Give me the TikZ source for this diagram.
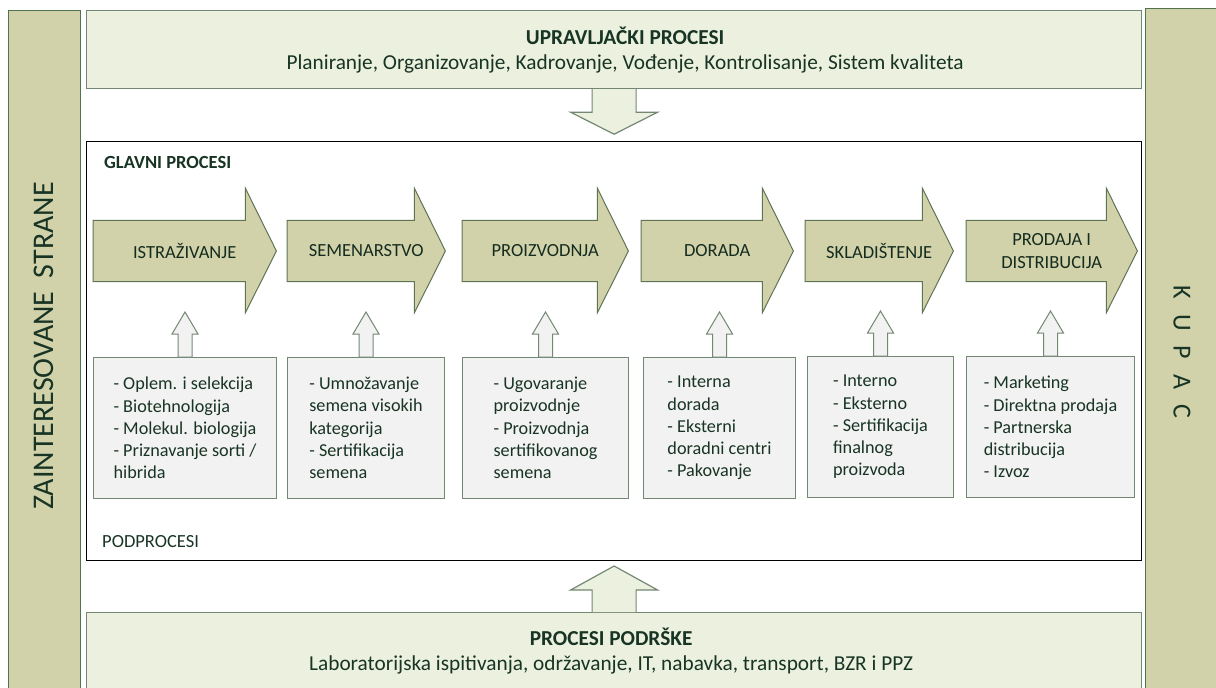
\documentclass[tikz,border=0pt]{standalone}
\usepackage{fontspec}
\setmainfont{Carlito}
\usetikzlibrary{calc, backgrounds}

\definecolor{khaki}{RGB}{210,210,170}
\definecolor{barline}{RGB}{80,115,80}
\definecolor{procline}{RGB}{95,115,85}
\definecolor{lightgreen}{RGB}{235,241,222}
\definecolor{boxline}{RGB}{115,135,115}
\definecolor{subfill}{RGB}{242,242,242}
\definecolor{textgreen}{RGB}{24,52,36}

\tikzstyle{sidebar} = [
    rectangle,
    minimum width=72pt,
    minimum height=700pt,
    line width=1.3pt,
    draw=barline,
    fill=khaki
]
\tikzstyle{bartext} = [
    font=\fontsize{30}{34}\selectfont,
    text=textgreen
]
\tikzstyle{levelbox} = [
    rectangle,
    minimum width=1055pt,
    line width=1.2pt,
    draw=boxline,
    fill=lightgreen
]
\tikzstyle{leveltext} = [
    align=center,
    text=textgreen,
    font=\fontsize{21.3}{25}\selectfont
]
\tikzstyle{mainbox} = [
    rectangle,
    minimum width=1055pt,
    minimum height=419pt,
    line width=1.2pt,
    draw=black
]
\tikzstyle{caption} = [
    anchor=west,
    inner sep=0pt,
    text=textgreen,
    font=\fontsize{18.5}{20}\selectfont
]
\tikzstyle{process} = [
    rectangle,
    minimum height=61pt,
    inner sep=0pt,
    align=center,
    text=textgreen!85!black,
    font=\fontsize{18.5}{23}\selectfont
]
\tikzstyle{procarrow} = [line width=1pt, draw=procline, fill=khaki]
\tikzstyle{subprocess} = [
    rectangle,
    minimum height=141pt,
    line width=1pt,
    draw=boxline,
    fill=subfill,
    align=left,
    text=textgreen,
    font=\fontsize{18.2}{22.2}\selectfont
]
\tikzstyle{uparrow} = [line width=1pt, draw=boxline, fill=subfill]
\tikzstyle{bigarrow} = [line width=1.2pt, draw=boxline, fill=lightgreen]

% outline of a process arrow round a node that spans body and head
\newcommand{\procshape}[1]{%
    \draw [procarrow] (#1.north west) -- ($(#1.north east)+(-31,0)$)
        -- ++(0,-32) -- (#1.east) -- ($(#1.south east)+(-31,31)$)
        -- ($(#1.south east)+(-31,0)$) -- (#1.south west) -- cycle;}

% small hollow arrow from a subprocess box up to its process
\newcommand{\subarrow}[1]{%
    \draw [uparrow] ($(#1.north)+(-7,0)$) -- ++(0,-23) -- ++(-6,0)
        -- ++(13,-22) -- ++(13,22) -- ++(-6,0) -- ++(0,23) -- cycle;}

\begin{document}
\begin{tikzpicture}[x=1pt, y=-1pt]
\clip (0,0) rectangle (1216,688);

% stakeholders and customer
\node (zainteresovane) [sidebar, anchor=north west] at (8,10) {};
\node (zaintext) [bartext, rotate=90] at (44,346)
{ZAINTERESOVANE\ \ STRANE};

\node (kupac) [sidebar, minimum width=80pt, anchor=north west] at (1145,8) {};
\node (kupactext) [bartext, rotate=-90, font=\fontsize{26}{30}\selectfont]
at (1182,352) {K\hspace{15pt}U\hspace{15pt}P\hspace{15pt}A\hspace{15pt}C};

% management and support levels
\node (upravljacki) [levelbox, minimum height=78pt, anchor=north west] at (86,10) {};
\node (upravljackitext) [leveltext] at ($(upravljacki.center)+(11,0)$)
{\textbf{UPRAVLJAČKI PROCESI}\\
Planiranje, Organizovanje, Kadrovanje, Vođenje, Kontrolisanje, Sistem kvaliteta};

\node (podrska) [levelbox, minimum height=76pt, anchor=north west] at (86,612) {};
\node (podrskatext) [leveltext] at ($(podrska.center)+(-3,0)$)
{\textbf{PROCESI PODRŠKE}\\
Laboratorijska ispitivanja, održavanje, IT, nabavka, transport, BZR i PPZ};

% main processes
\node (glavni) [mainbox, anchor=north west] at (86,141) {};
\node (glavnitext) [caption, font=\bfseries\fontsize{18.5}{20}\selectfont] at (104,162)
{GLAVNI PROCESI};
\node (podprocesi) [caption] at (102,542) {PODPROCESI};

\node (istrazivanje) [process, minimum width=183pt, anchor=west] at (93,251)
{ISTRAŽIVANJE};
\node (semenarstvo) [process, minimum width=158pt, anchor=west] at (287,251)
{SEMENARSTVO};
\node (proizvodnja) [process, minimum width=166pt, anchor=west] at (462,251)
{PROIZVODNJA};
\node (dorada) [process, minimum width=152pt, anchor=west] at (641,251)
{DORADA};
\node (skladistenje) [process, minimum width=148pt, anchor=west] at (805,251)
{SKLADIŠTENJE};
\node (prodaja) [process, minimum width=171pt, anchor=west] at (966,251)
{PRODAJA I\\DISTRIBUCIJA};

\begin{scope}[on background layer]
\procshape{istrazivanje}
\procshape{semenarstvo}
\procshape{proizvodnja}
\procshape{dorada}
\procshape{skladistenje}
\procshape{prodaja}
\end{scope}

% subprocesses
\node (sub1) [subprocess, minimum width=183pt, anchor=north west] at (93,357)
{- Oplem. i selekcija\\- Biotehnologija\\- Molekul. biologija\\
- Priznavanje sorti /\\hibrida};
\node (sub2) [subprocess, minimum width=157pt, anchor=north west] at (287,357)
{- Umnožavanje\\semena visokih\\kategorija\\- Sertifikacija\\semena};
\node (sub3) [subprocess, minimum width=166pt, anchor=north west] at (462,357)
{- Ugovaranje\\proizvodnje\\- Proizvodnja\\sertifikovanog\\semena};
\node (sub4) [subprocess, minimum width=152pt, anchor=north west] at (643,357)
{- Interna\\dorada\\- Eksterni\\doradni centri\\- Pakovanje};
\node (sub5) [subprocess, minimum width=146pt, anchor=north west] at (807,356)
{- Interno\\- Eksterno\\- Sertifikacija\\finalnog\\proizvoda};
\node (sub6) [subprocess, minimum width=168pt, anchor=north west] at (966,356)
{- Marketing\\- Direktna prodaja\\- Partnerska\\distribucija\\- Izvoz};

\subarrow{sub1}
\subarrow{sub2}
\subarrow{sub3}
\subarrow{sub4}
\subarrow{sub5}
\subarrow{sub6}

% management feeds in from above, support from below
\draw [bigarrow] ($(upravljacki.south)+(-22,0)$) -- ++(0,23) -- ++(-21.5,0)
    -- ++(43.5,22) -- ++(43.5,-22) -- ++(-21.5,0) -- ++(0,-23);
\draw [bigarrow] ($(podrska.north)+(-22,0)$) -- ++(0,-22) -- ++(-21.5,0)
    -- ++(43.5,-24) -- ++(43.5,24) -- ++(-21.5,0) -- ++(0,22);

\end{tikzpicture}
\end{document}
